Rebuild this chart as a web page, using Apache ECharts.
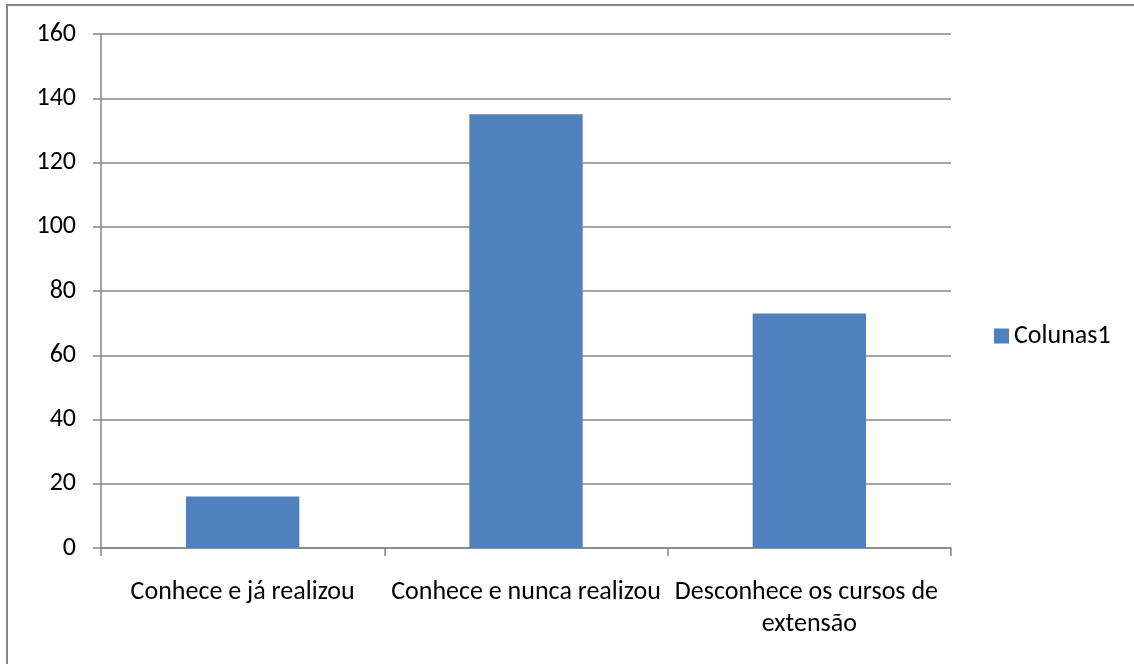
<!DOCTYPE html>
<html>
<head>
<meta charset="utf-8">
<script src="https://cdn.jsdelivr.net/npm/echarts@6/dist/echarts.min.js"></script>
<style>
html,body{margin:0;padding:0;background:#fff;}
#c{width:1134px;height:664px;}
</style>
</head>
<body>
<div id="c"></div>
<script>
var categories = ['Conhece e já realizou', 'Conhece e nunca realizou', 'Desconhece os cursos de extensão'];
var seriesName = 'Colunas1';
var values = [16, 135, 73];
var yMin = 0, yMax = 160, yStep = 20;

var FONT = 'Carlito, Lato, sans-serif';
var GRAY = '#868686';
var chart = echarts.init(document.getElementById('c'), null, {renderer: 'canvas'});
chart.setOption({
  animation: false,
  backgroundColor: '#fff',
  textStyle: {fontFamily: FONT},
  graphic: [{
    type: 'rect',
    shape: {x: 7, y: 5, width: 1300, height: 900},
    style: {fill: 'none', stroke: GRAY, lineWidth: 2},
    silent: true
  }],
  grid: {left: 101, right: 183, top: 34, bottom: 116, containLabel: false},
  legend: {
    show: true,
    left: 989, top: 318,
    orient: 'vertical',
    icon: 'rect',
    itemWidth: 15, itemHeight: 15,
    textStyle: {fontFamily: FONT, fontSize: 26, color: '#000'},
    data: [seriesName]
  },
  xAxis: {
    type: 'category',
    data: categories,
    axisLine: {show: true, lineStyle: {color: GRAY, width: 1.5}},
    axisTick: {show: true, length: 8, alignWithLabel: false, lineStyle: {color: GRAY, width: 1.5}},
    axisLabel: {
      interval: 0, margin: 28, color: '#000', fontFamily: FONT, fontSize: 26,
      lineHeight: 32, width: 288, overflow: 'break', align: 'center'
    },
    splitLine: {show: false}
  },
  yAxis: {
    type: 'value',
    min: yMin, max: yMax, interval: yStep,
    axisLine: {show: true, lineStyle: {color: GRAY, width: 1.5}},
    axisTick: {show: true, length: 8, lineStyle: {color: GRAY, width: 1.5}},
    axisLabel: {margin: 25, color: '#000', fontFamily: FONT, fontSize: 26},
    splitLine: {show: true, lineStyle: {color: GRAY, width: 1.5}}
  },
  series: [{
    name: seriesName,
    type: 'bar',
    data: values,
    barWidth: '40%',
    itemStyle: {color: '#4F81BD'}
  }]
});
</script>
</body>
</html>
